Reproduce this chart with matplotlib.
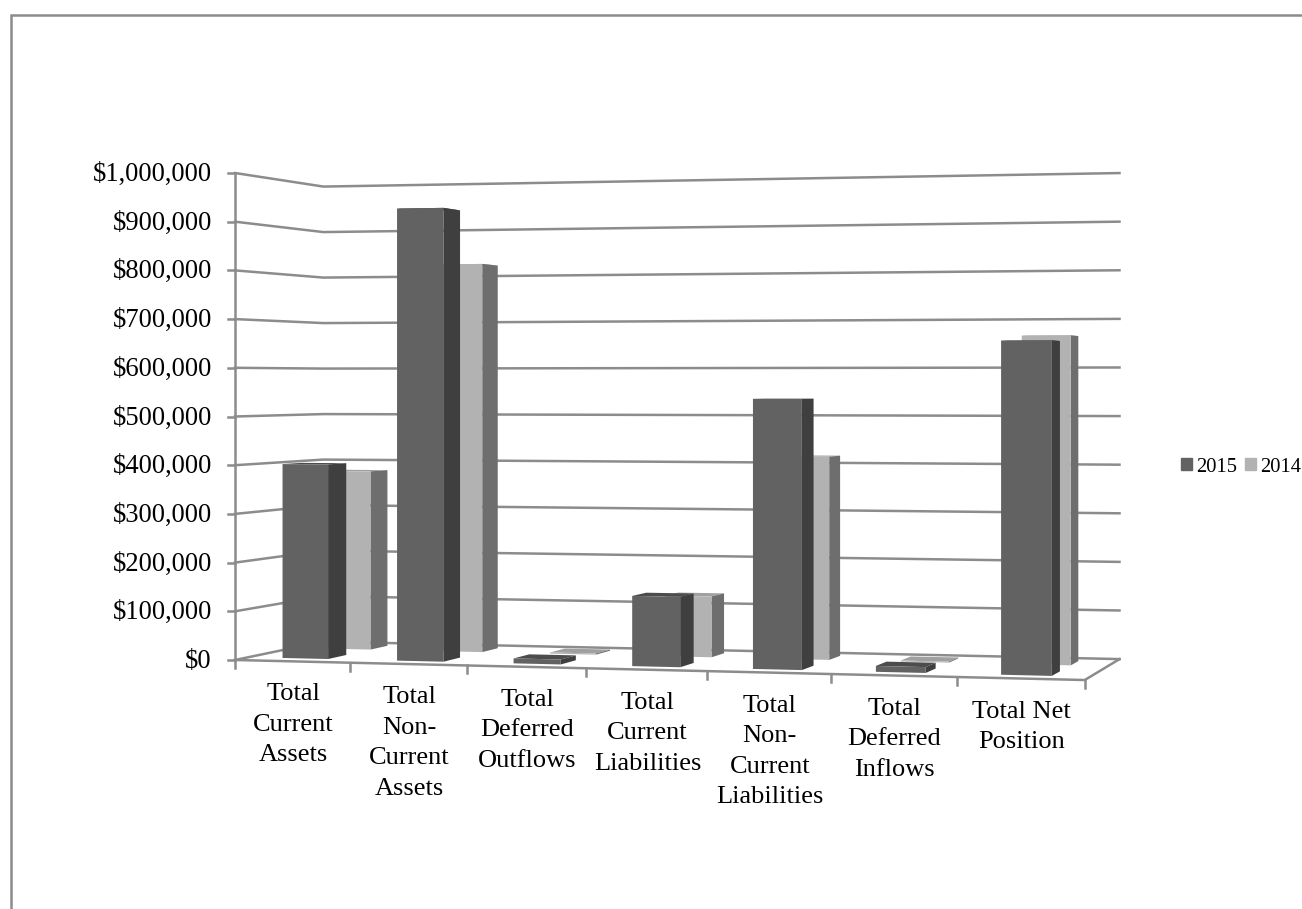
import numpy as np
import matplotlib
matplotlib.use("Agg")
import matplotlib.pyplot as plt
from matplotlib.patches import Patch

categories = ["Total\nCurrent\nAssets", "Total\nNon-\nCurrent\nAssets", "Total\nDeferred\nOutflows",
              "Total\nCurrent\nLiabilities", "Total\nNon-\nCurrent\nLiabilities", "Total\nDeferred\nInflows",
              "Total Net\nPosition"]
values_2015 = [401000, 926000, 10000, 141000, 537000, 11500, 651000]
values_2014 = [380000, 820000, 2500, 126000, 417000, 2000, 664000]
y_ticks = list(range(0, 1000001, 100000))

plt.rcParams['font.family'] = ['Liberation Serif', 'DejaVu Sans']
GRID = '#8c8c8c'
LW = 1.8
n = len(categories)

# perspective map: (category position u, depth z 0..1, value) -> pixel
WU, WZ = -0.00875, 0.07
XC, XU, XZ = 235.0, 111.9, 111.0
YC, YU, YZ = 660.0, -3.09, 26.5
HU, HZ = -0.00976, 0.0703
UNIT = 487.0 / 1e6


def project(u, z, val=0.0):
    w = 1 + WU * u + WZ * z
    ws = 1 + HU * u + HZ * z
    return ((XC + XU * u + XZ * z) / w, (YC + YU * u + YZ * z) / w - val * UNIT / ws)


fig = plt.figure(figsize=(13.02, 9.09), dpi=100)
ax = fig.add_axes([0, 0, 1, 1])
ax.set_xlim(0, 1302)
ax.set_ylim(909, 0)
ax.axis('off')

# chart frame
ax.plot([10.5, 10.5, 1302], [909, 15, 15], color=GRID, lw=LW, solid_joinstyle='miter')

# walls
for t in y_ticks:
    pts = [project(0, 0, t), project(0, 1, t), project(n, 1, t)]
    ax.plot(*zip(*pts), color=GRID, lw=LW, zorder=1)
    x0, y0 = pts[0]
    ax.plot([x0 - 7, x0], [y0, y0], color=GRID, lw=LW, zorder=1)
    ax.text(212, y0 + 1.5, f"${t:,}", ha='right', va='center', fontsize=19.1, color='black')
ax.plot(*zip(project(0, 0), project(0, 0, y_ticks[-1])), color=GRID, lw=LW, zorder=1)

# floor front and side
ax.plot(*zip(project(0, 0), project(n, 0), project(n, 1)), color=GRID, lw=LW, zorder=1)
for i in range(n + 1):
    x0, y0 = project(i, 0)
    ax.plot([x0, x0], [y0, y0 + 8], color=GRID, lw=LW, zorder=1)

# bars
U0, U1 = 0.30, 0.70
series = [
    (values_2014, 0.645, 0.855, '#b2b2b2', '#6e6e6e', '#a0a0a0'),
    (values_2015, 0.145, 0.355, '#626262', '#3f3f3f', '#4c4c4c'),
]
zo = 2
for i in range(n):
    for vals, z0, z1, cf, cs, ct in series:
        val = vals[i]
        u0, u1 = i + U0, i + U1
        ax.fill(*zip(project(u0, z0, val), project(u1, z0, val), project(u1, z1, val), project(u0, z1, val)),
                color=ct, lw=0, zorder=zo)
        ax.fill(*zip(project(u1, z0), project(u1, z1), project(u1, z1, val), project(u1, z0, val)),
                color=cs, lw=0, zorder=zo)
        ax.fill(*zip(project(u0, z0), project(u1, z0), project(u1, z0, val), project(u0, z0, val)),
                color=cf, lw=0, zorder=zo)
        zo += 1

# category labels
for i, lab in enumerate(categories):
    x0, y0 = project(i + 0.5, 0)
    ax.text(x0 + 1, y0 + 22, lab, ha='center', va='top', fontsize=19, linespacing=1.5, color='black')

handles = [Patch(color='#626262', label='2015'), Patch(color='#b2b2b2', label='2014')]
ax.legend(handles=handles, ncol=2, frameon=False, fontsize=14.8, loc='center left',
          bbox_to_anchor=(1181, 467), bbox_transform=ax.transData, borderpad=0, borderaxespad=0,
          handlelength=0.55, handleheight=0.55, handletextpad=0.2, columnspacing=0.35)

fig.savefig('out.png', dpi=100)
